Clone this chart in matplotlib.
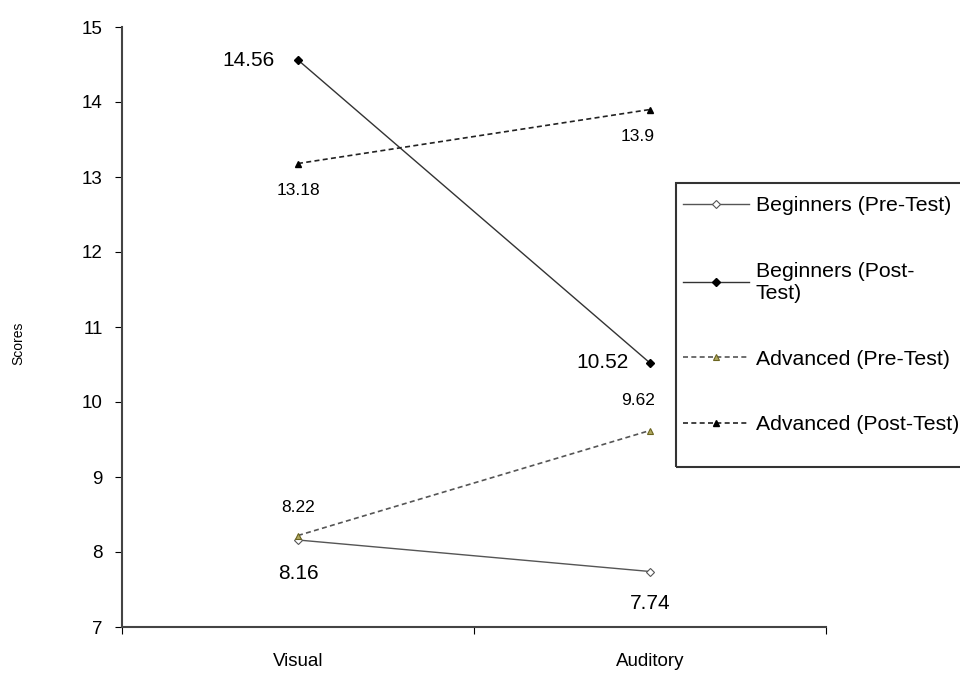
import matplotlib
matplotlib.use("Agg")
import matplotlib.pyplot as plt
from matplotlib.patches import Rectangle

plt.rcParams['font.family'] = ['Liberation Sans', 'DejaVu Sans']

# data
categories = ["Visual", "Auditory"]
beg_pre = [8.16, 7.74]
beg_post = [14.56, 10.52]
adv_pre = [8.22, 9.62]
adv_post = [13.18, 13.9]
series_names = ["Beginners (Pre-Test)", "Beginners (Post-\nTest)",
                "Advanced (Pre-Test)", "Advanced (Post-Test)"]

x = [0.5, 1.5]
W, H = 960, 673

fig = plt.figure(figsize=(9.6, 6.73), dpi=100)
ax = fig.add_axes([122/W, 1 - 627/H, (826-122)/W, 600/H])

l1, = ax.plot(x, beg_pre, color="#555555", lw=1, marker="D", ms=4,
              mfc="white", mec="#555555", mew=0.8)
l2, = ax.plot(x, beg_post, color="#333333", lw=1, marker="D", ms=4,
              mfc="black", mec="black")
l3, = ax.plot(x, adv_pre, color="#555555", lw=1.2, ls=(0, (3, 2)), marker="^", ms=5,
              mfc="#b0a860", mec="#6b6420", mew=0.8)
l4, = ax.plot(x, adv_post, color="#222222", lw=1.2, ls=(0, (3, 2)), marker="^", ms=5,
              mfc="black", mec="black")

# data labels
big = 15
small = 12.5
def lab(xv, yv, dx, dy, size):
    ax.annotate(f"{yv:g}", (xv, yv), xytext=(dx, dy), textcoords="offset points",
                ha="center", va="center", fontsize=size)

lab(x[0], beg_post[0], -36, 0, big)
lab(x[1], beg_post[1], -34.5, 0, big)
lab(x[0], adv_post[0], 0, -19.5, small)
lab(x[1], adv_post[1], -8.6, -19.5, small)
lab(x[1], adv_pre[1], -8.6, 21.6, small)
lab(x[0], adv_pre[0], 0, 20, small)
lab(x[0], beg_pre[0], 0, -24, big)
lab(x[1], beg_pre[1], 0, -23, big)

ax.set_xlim(0, 2)
ax.set_ylim(7, 15)
ax.set_xticks([0, 1, 2])
ax.set_xticklabels([])
ax.set_xticks(x, minor=True)
ax.set_xticklabels(categories, minor=True, fontsize=13.5)
ax.tick_params(axis="x", which="minor", length=0, pad=19)
ax.tick_params(axis="x", which="major", direction="out", length=5)
ax.tick_params(axis="y", direction="out", length=5, labelsize=13.5, pad=9)
ax.set_yticks(range(7, 16))
ax.spines["top"].set_visible(False)
ax.spines["right"].set_visible(False)
for s in ("left", "bottom"):
    ax.spines[s].set_color("#444444")
    ax.spines[s].set_linewidth(1.5)
ax.set_ylabel("Scores", fontsize=10)
ax.yaxis.set_label_coords(-0.137, 0.472)

# legend frame drawn by hand (it runs off the right edge)
fig.patches.append(Rectangle((676/W, 1 - 467/H), 300/W, 284/H,
                             transform=fig.transFigure, fill=False,
                             edgecolor="#333333", linewidth=1.5))
leg = fig.legend([l1, l2, l3, l4], series_names, loc="upper left",
                 bbox_to_anchor=(683/W, 1 - 196/H), fontsize=15.3,
                 frameon=False, labelspacing=2.2,
                 handlelength=3.1, handletextpad=0.33, borderpad=0,
                 borderaxespad=0)

fig.savefig("out.png", dpi=100)
